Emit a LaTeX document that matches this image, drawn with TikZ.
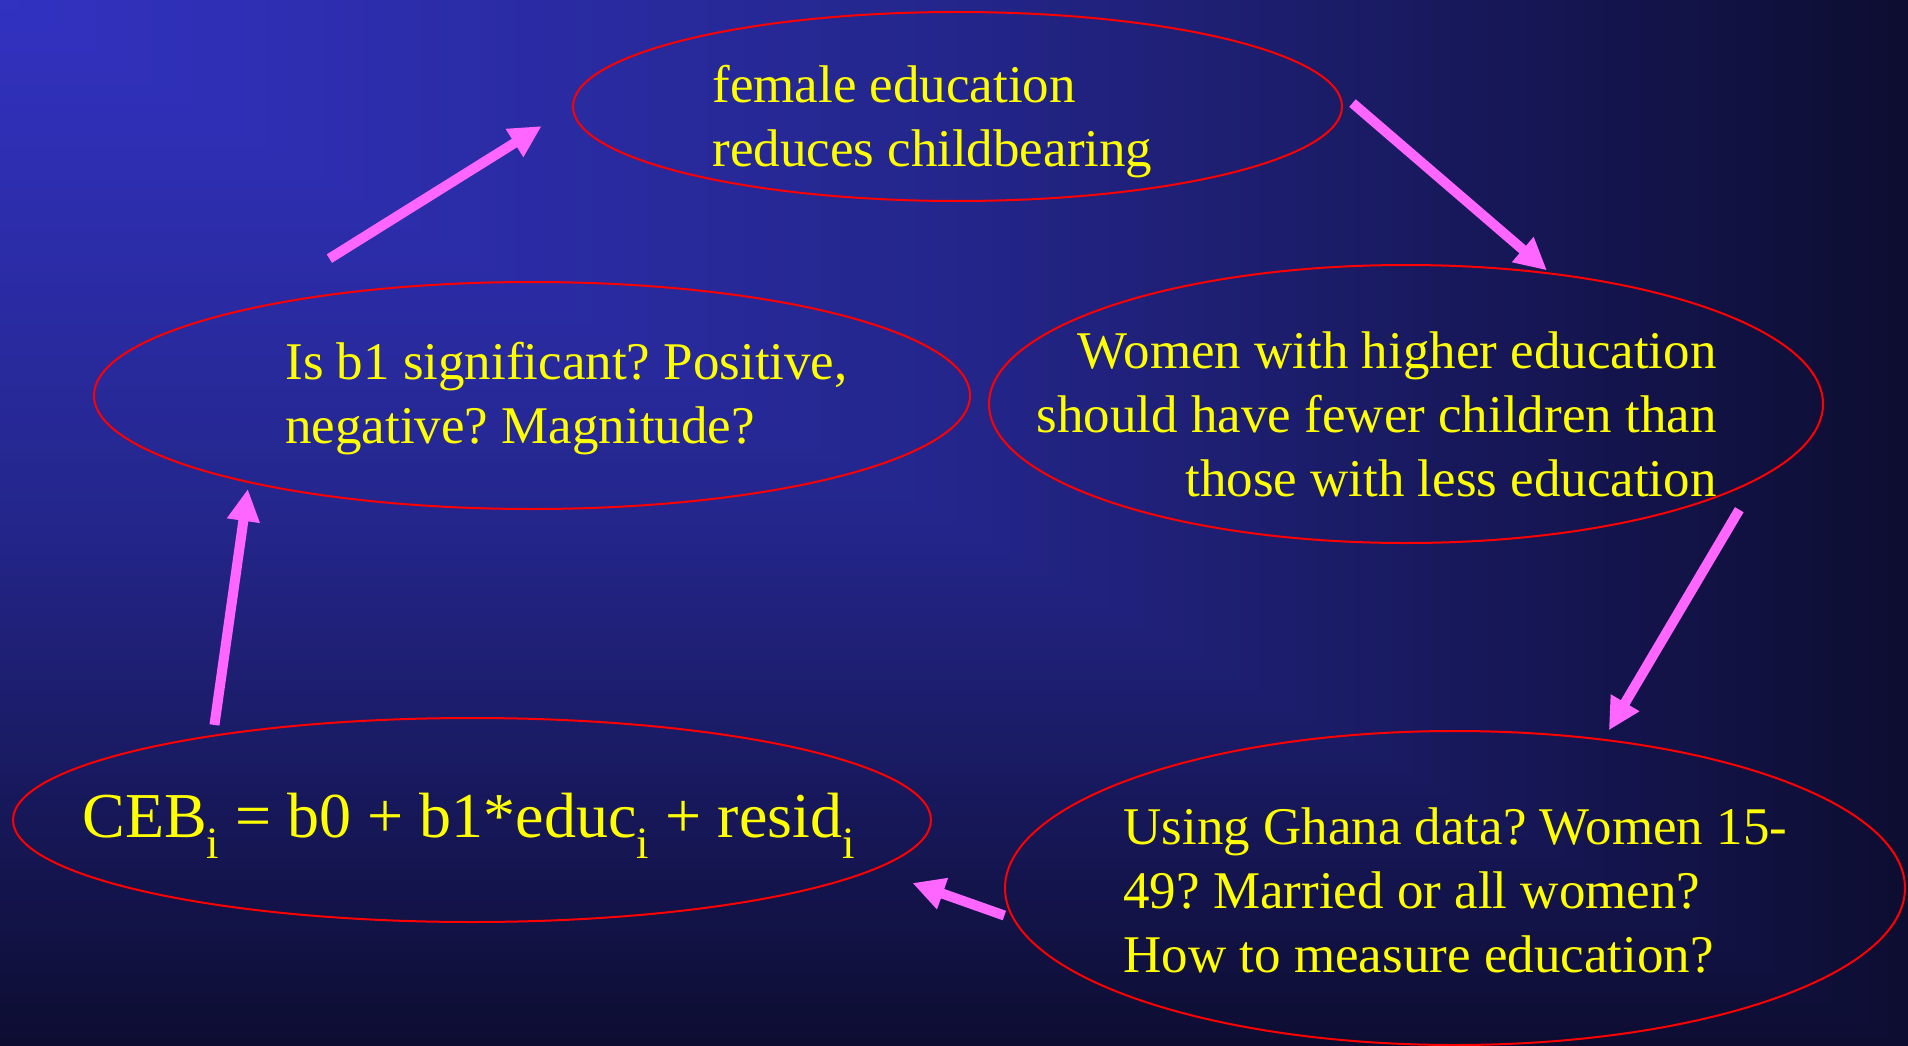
\documentclass[tikz,border=0pt]{standalone}
\usepackage{fontspec}
\setmainfont{Liberation Serif}
\usetikzlibrary{shapes.geometric,arrows.meta}
\definecolor{bgtop}{RGB}{50,50,194}
\definecolor{bgmid}{RGB}{36,38,140}
\definecolor{bgend}{RGB}{13,13,50}
\definecolor{flowpink}{RGB}{255,102,255}
\definecolor{slideyellow}{RGB}{255,255,0}
\frenchspacing
\tikzset{every picture/.style={line width=0.75pt}}
\tikzset{
  bubble/.style={ellipse, draw=red, line width=2pt, inner sep=0pt, outer sep=0pt},
  flow/.style={draw=flowpink, line width=10pt, -{Triangle[length=32pt,width=31pt]}},
  slidetxt/.style={text=slideyellow, inner sep=0pt, font=\fontsize{53}{64}\selectfont},
}

\begin{document}
\begin{tikzpicture}[x=1pt,y=1pt,yscale=-1]
\path[use as bounding box] (0,0) rectangle (1908,1046);

%Background: gradient out of the top left corner
\foreach \i in {100,99,...,51}{
  \pgfmathtruncatemacro\p{(\i-50)*2}
  \fill[bgend!\p!bgmid] (0,0) rectangle (19.08*\i,10.46*\i);
}
\foreach \i in {50,49,...,1}{
  \pgfmathtruncatemacro\p{\i*2}
  \fill[bgmid!\p!bgtop] (0,0) rectangle (19.08*\i,10.46*\i);
}

%Shape: Ellipses
\node[bubble, minimum width=769pt, minimum height=189pt] (topE) at (957.5,106.5) {};
\node[bubble, minimum width=876pt, minimum height=227pt] (sigE) at (532,395.5) {};
\node[bubble, minimum width=834pt, minimum height=278pt] (womE) at (1406,404) {};
\node[bubble, minimum width=918pt, minimum height=204pt] (eqE) at (472,820) {};
\node[bubble, minimum width=900pt, minimum height=314pt] (ghE) at (1455,888) {};

% Text Node
\node[slidetxt, anchor=north west, align=left] (topT) at (712,65) {female education\\reduces childbearing};
% Text Node
\node[slidetxt, anchor=north west, align=left] (sigT) at (285,342) {Is b1 significant? Positive,\\negative? Magnitude?};
% Text Node
\node[slidetxt, anchor=north east, align=right] (womT) at (1717,331) {Women with higher education\\should have fewer children than\\those with less education};
% Text Node
\node[slidetxt, anchor=north west, align=left] (ghT) at (1123,807) {Using Ghana data? Women 15-\\49? Married or all women?\\How to measure education?};
% Text Node
\node[slidetxt, anchor=base west, font=\fontsize{64}{76}\selectfont] (eqT) at (82,837) {CEB\textsubscript{i} = b0 + b1*educ\textsubscript{i} + resid\textsubscript{i}};

%Straight Lines
\draw[flow, shorten <=95pt, shorten >=37pt] (sigE.163.4) -- (topE.180);
\draw[flow, shorten <=25pt, shorten >=5pt] (topE.3.7) -- (womE.42.6);
\draw[flow, shorten <=36pt, shorten >=11pt] (womE.348.6) -- (ghE.45.1);
\draw[flow, shorten <=10pt, shorten >=41pt] (ghE.184) -- (eqE.353);
\draw[flow, shorten <=11pt, shorten >=7pt] (eqE.162.6) -- (sigE.197.9);

\end{tikzpicture}
\end{document}
